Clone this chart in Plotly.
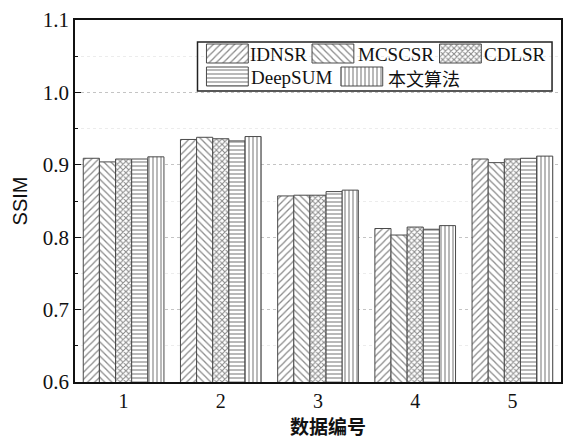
import plotly.graph_objects as go

# SSIM scores per dataset for each method
datasets = ["1", "2", "3", "4", "5"]
methods = ["IDNSR", "MCSCSR", "CDLSR", "DeepSUM", "本文算法"]
idnsr = [0.909, 0.935, 0.857, 0.812, 0.908]
mcscsr = [0.904, 0.938, 0.858, 0.803, 0.903]
cdlsr = [0.908, 0.936, 0.858, 0.814, 0.908]
deepsum = [0.908, 0.933, 0.863, 0.811, 0.909]
ours = [0.911, 0.939, 0.865, 0.816, 0.912]
series = [idnsr, mcscsr, cdlsr, deepsum, ours]

# hatch style for each method
patterns = [
    dict(shape="/", size=5, solidity=0.25),
    dict(shape="\\", size=5, solidity=0.25),
    dict(shape="x", size=4, solidity=0.45),
    dict(shape="-", size=4, solidity=0.3),
    dict(shape="|", size=4, solidity=0.3),
]

SERIF = "Liberation Serif, Times New Roman, serif"
CJK = "Noto Sans CJK SC, sans-serif"
W, H = 563, 440
ML, MR, MT, MB = 75, 0, 20, 58
PLOT_W, PLOT_H = W - ML - MR, H - MT - MB

fig = go.Figure()
for name, vals, pat in zip(methods, series, patterns):
    fig.add_trace(go.Bar(
        x=datasets, y=vals, name=name, showlegend=False,
        marker=dict(color="white",
                    line=dict(color="#4a4a4a", width=1),
                    pattern=dict(fgcolor="#8a8a8a", bgcolor="white",
                                 fillmode="replace", **pat)),
    ))

# Legend drawn on a pixel-scaled helper axis so the swatches can be large
legend_box = (198, 42, 554, 91)  # x0, y0, x1, y1 in pixels
swatch_pos = [(207, 44), (313, 44), (441, 44), (207, 67), (342, 67)]
label_x = [251, 359, 486, 252, 389]
swatch_w, swatch_h = 42, 19
for name, pat, (sx, sy), lx in zip(methods, patterns, swatch_pos, label_x):
    fig.add_trace(go.Bar(
        x=[sx], y=[swatch_h], base=[sy], width=[swatch_w], offset=0,
        xaxis="x2", yaxis="y2", showlegend=False, hoverinfo="skip",
        marker=dict(color="white",
                    line=dict(color="#4a4a4a", width=1),
                    pattern=dict(fgcolor="#8a8a8a", bgcolor="white",
                                 fillmode="replace", **pat)),
    ))
    is_cjk = any(ord(c) > 127 for c in name)
    fig.add_annotation(
        x=lx, y=sy + swatch_h / 2 + 1, xref="x2", yref="y2",
        text=name, showarrow=False, xanchor="left", yanchor="middle",
        xshift=-2,
        font=dict(family=CJK if is_cjk else SERIF,
                  size=18 if is_cjk else 19, color="#111"),
    )

fig.add_shape(type="rect", xref="x2", yref="y2",
              x0=legend_box[0], y0=legend_box[1],
              x1=legend_box[2], y1=legend_box[3],
              line=dict(color="#222", width=1.5), layer="above")

# x-axis title, placed in paper coordinates below the tick labels
fig.add_annotation(x=(329 - ML) / PLOT_W, y=(H - MB - 426) / PLOT_H,
                   xref="paper", yref="paper", text="<b>数据编号</b>",
                   showarrow=False, xanchor="center", yanchor="middle",
                   font=dict(family=CJK, size=19, color="#111"))

fig.update_layout(
    width=W, height=H,
    margin=dict(l=ML, r=MR, t=MT, b=MB),
    paper_bgcolor="white", plot_bgcolor="white",
    barmode="group", bargap=0.17, bargroupgap=0,
    xaxis=dict(
        type="category", range=[-0.5, 4.5],
        showline=True, linecolor="#111", linewidth=1.5, mirror=True,
        ticks="", showgrid=False,
        tickfont=dict(family=SERIF, size=20, color="#111"),
    ),
    yaxis=dict(
        range=[0.6, 1.1], dtick=0.1, tickformat=".1f",
        showline=True, linecolor="#111", linewidth=1.5, mirror=True,
        ticks="inside", ticklen=6, tickcolor="#111",
        showgrid=True, gridcolor="#c4c4c4", griddash="dot", gridwidth=1,
        zeroline=False,
        minor=dict(dtick=0.05, ticks="inside", ticklen=3, tickcolor="#111",
                   showgrid=True, gridcolor="#ececec", gridwidth=1),
        tickfont=dict(family=SERIF, size=21, color="#111"),
        title=dict(text="SSIM", font=dict(family="Liberation Sans, Arial, sans-serif",
                                          size=20, color="#111"), standoff=10),
    ),
    xaxis2=dict(domain=[0, 1], range=[ML, W - MR], overlaying="x",
                anchor="y2", visible=False, fixedrange=True),
    yaxis2=dict(domain=[0, 1], range=[H - MB, MT], overlaying="y",
                anchor="x2", visible=False, fixedrange=True),
)

fig.write_html("out.html")
